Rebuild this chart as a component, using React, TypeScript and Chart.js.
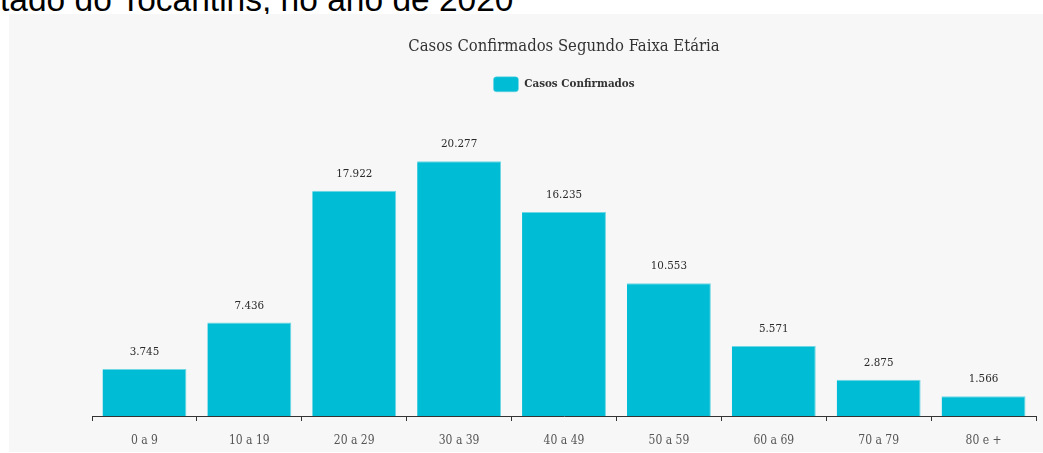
import React, { useEffect, useRef } from "react";
import { Chart, registerables } from "chart.js";

Chart.register(...registerables);

const categories = ["0 a 9", "10 a 19", "20 a 29", "30 a 39", "40 a 49", "50 a 59", "60 a 69", "70 a 79", "80 e +"];
const casosConfirmados = [3745, 7436, 17922, 20277, 16235, 10553, 5571, 2875, 1566];
const seriesName = "Casos Confirmados";
const chartTitle = "Casos Confirmados Segundo Faixa Etária";
const headingText = "tado do Tocantins, no ano de 2020";

const FONT = "'Roboto Slab', 'DejaVu Serif Condensed', 'DejaVu Serif', serif";

function fmt(v: number): string {
  return String(v).replace(/\B(?=(\d{3})+(?!\d))/g, ".");
}

const valueLabels = {
  id: "valueLabels",
  afterDatasetsDraw(chart: any) {
    const ctx = chart.ctx;
    const meta = chart.getDatasetMeta(0);
    const data = chart.data.datasets[0].data as number[];
    ctx.save();
    ctx.font = `11.5px ${FONT}`;
    ctx.fillStyle = "#2a2a2a";
    ctx.textAlign = "center";
    ctx.textBaseline = "middle";
    meta.data.forEach((bar: any, i: number) => {
      ctx.fillText(fmt(data[i]), bar.x, bar.y - 17);
    });
    ctx.restore();
  },
};

export default function App() {
  const ref = useRef<HTMLCanvasElement | null>(null);
  useEffect(() => {
    if (!ref.current) return;
    const chart = new Chart(ref.current, {
      type: "bar",
      data: {
        labels: categories,
        datasets: [
          {
            label: seriesName,
            data: casosConfirmados,
            backgroundColor: "#00bcd4",
            borderColor: "#6fd6e4",
            borderWidth: { top: 1, right: 1, left: 0, bottom: 0 },
            barPercentage: 0.8,
            categoryPercentage: 1,
          },
        ],
      },
      options: {
        animation: false,
        responsive: false,
        maintainAspectRatio: false,
        devicePixelRatio: 1,
        layout: { padding: { left: 83, right: 7, top: 13, bottom: 7 } },
        plugins: {
          title: {
            display: true,
            text: chartTitle,
            color: "#333333",
            font: { family: FONT, size: 16.5, weight: "normal" },
            padding: { top: 10, bottom: 10 },
          },
          legend: {
            display: true,
            labels: {
              color: "#333333",
              font: { family: FONT, size: 11.5, weight: "bold" },
              boxWidth: 25,
              boxHeight: 15,
              useBorderRadius: true,
              borderRadius: 3,
            },
          },
          tooltip: { enabled: false },
        },
        scales: {
          x: {
            afterFit(scale: any) {
              scale.height = 29;
            },
            grid: {
              display: true,
              drawOnChartArea: false,
              drawTicks: true,
              tickLength: 5,
              color: "#333333",
              offset: true,
            },
            border: { display: true, color: "#333333", width: 1 },
            ticks: {
              color: "#555555",
              font: { family: FONT, size: 12 },
              padding: 13,
            },
          },
          y: {
            display: false,
            min: 0,
            max: 25000,
          },
        },
      },
      plugins: [valueLabels],
    });
    return () => chart.destroy();
  }, []);

  return (
    <div style={{ position: "absolute", left: 0, top: 0, width: 1043, height: 453, overflow: "hidden", background: "#ffffff" }}>
      <div
        style={{
          position: "absolute",
          left: 0,
          top: -17,
          fontFamily: "'Liberation Sans', Arial, sans-serif",
          fontSize: 33.5,
          lineHeight: "34px",
          color: "#000000",
          whiteSpace: "nowrap",
        }}
      >
        {headingText}
      </div>
      <div style={{ position: "absolute", left: 9, top: 14, width: 1034, height: 438, background: "#f7f7f7" }}>
        <canvas ref={ref} width={1034} height={438} style={{ display: "block", width: 1034, height: 438 }} />
      </div>
    </div>
  );
}
